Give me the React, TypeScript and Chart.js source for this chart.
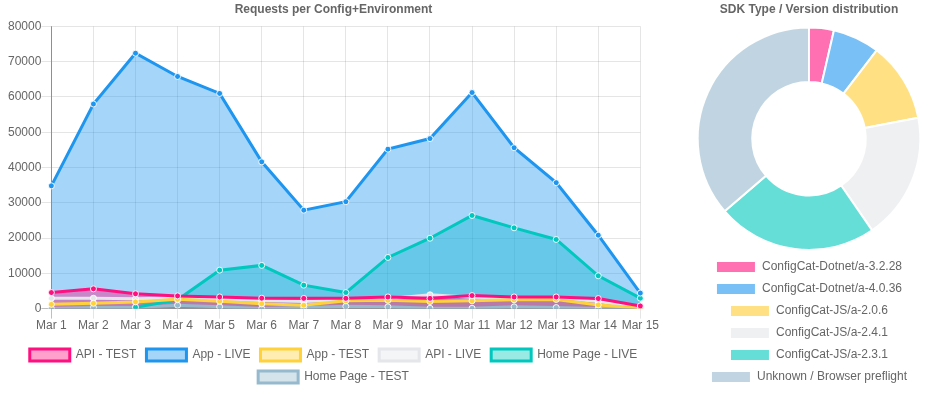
import React, { useEffect, useRef } from "react";
import { Chart, registerables } from "chart.js";

Chart.register(...registerables);

const dates = ["Mar 1", "Mar 2", "Mar 3", "Mar 4", "Mar 5", "Mar 6", "Mar 7", "Mar 8", "Mar 9", "Mar 10", "Mar 11", "Mar 12", "Mar 13", "Mar 14", "Mar 15"];

const apiTest = [4550, 5600, 4200, 3600, 3300, 2950, 2900, 2900, 3300, 2900, 3700, 3300, 3300, 2850, 750];
const appLive = [34800, 58000, 72400, 65800, 61000, 41600, 27900, 30300, 45200, 48200, 61250, 45600, 35700, 20800, 4400];
const appTest = [1200, 1500, 1900, 2650, 2100, 1350, 950, 2200, 2350, 2000, 2200, 2500, 2600, 1050, 200];
const apiLive = [2900, 2950, 2800, 3000, 2600, 2300, 2000, 2500, 2800, 3900, 3200, 3000, 3100, 2000, 300];
const homeLive = [null, null, 400, 2500, 10900, 12250, 6650, 4550, 14500, 19950, 26400, 22900, 19600, 9300, 2950];
const homeTest = [0, 300, 300, 950, 500, 0, 300, 650, 500, 100, 100, 500, 300, 0, 0];

const seriesNames = ["API - TEST", "App - LIVE", "App - TEST", "API - LIVE", "Home Page - LIVE", "Home Page - TEST"];
const seriesRgb = ["255,16,128", "30,150,240", "255,210,60", "228,230,234", "0,200,190", "150,185,205"];

const sdkLabels = ["ConfigCat-Dotnet/a-3.2.28", "ConfigCat-Dotnet/a-4.0.36", "ConfigCat-JS/a-2.0.6", "ConfigCat-JS/a-2.4.1", "ConfigCat-JS/a-2.3.1", "Unknown / Browser preflight"];
const sdkValues = [3.6, 6.8, 11.6, 18.4, 23.3, 36.3];
const sdkRgb = ["255,16,128", "30,150,240", "255,205,50", "228,230,234", "0,200,190", "150,185,205"];

const FONT = "'Liberation Sans', Arial, Helvetica, sans-serif";

export default function App() {
  const lineRef = useRef<HTMLCanvasElement>(null);
  const pieRef = useRef<HTMLCanvasElement>(null);

  useEffect(() => {
    Chart.defaults.font.family = FONT;
    Chart.defaults.font.size = 12;
    Chart.defaults.color = "#666";

    const allSeries = [apiTest, appLive, appTest, apiLive, homeLive, homeTest];
    const lineChart = new Chart(lineRef.current!, {
      type: "line",
      data: {
        labels: dates,
        datasets: allSeries.map((d, i) => ({
          label: seriesNames[i],
          data: d,
          borderColor: `rgb(${seriesRgb[i]})`,
          backgroundColor: `rgba(${seriesRgb[i]},0.4)`,
          fill: "origin",
          borderWidth: 3,
          tension: 0,
          pointRadius: 3,
          pointBorderWidth: 1,
          pointBackgroundColor: `rgb(${seriesRgb[i]})`,
          pointBorderColor: "rgba(255,255,255,0.9)",
        })),
      },
      options: {
        animation: false,
        responsive: true,
        maintainAspectRatio: false,
        plugins: {
          filler: { drawTime: "beforeDatasetsDraw" },
          title: {
            display: true,
            text: "Requests per Config+Environment",
            font: { weight: "bold", size: 12 },
            color: "#666",
            padding: { top: 2, bottom: 10 },
          },
          legend: {
            position: "bottom",
            labels: { boxWidth: 40, boxHeight: 12, padding: 10, color: "#666" },
          },
          tooltip: { enabled: false },
        },
        scales: {
          x: {
            grid: {
              color: (ctx: any) => (ctx.index === 0 ? "rgba(0,0,0,0.25)" : "rgba(0,0,0,0.1)"),
              tickLength: 10,
            },
            border: { color: "rgba(0,0,0,0.25)" },
            ticks: { padding: 0, maxRotation: 0, color: "#666" },
            afterFit: (scale: any) => {
              scale.height += 6;
            },
          },
          y: {
            min: 0,
            max: 80000,
            grid: {
              color: (ctx: any) => (ctx.index === 0 ? "rgba(0,0,0,0.25)" : "rgba(0,0,0,0.1)"),
              tickLength: 10,
            },
            border: { color: "rgba(0,0,0,0.25)" },
            ticks: { stepSize: 10000, padding: 0, color: "#666", callback: (v: any) => String(v) },
          },
        },
      },
    });

    const pieChart = new Chart(pieRef.current!, {
      type: "doughnut",
      data: {
        labels: sdkLabels,
        datasets: [
          {
            data: sdkValues,
            backgroundColor: sdkRgb.map((c) => `rgba(${c},0.6)`),
            borderColor: "#fff",
            borderWidth: 2,
          },
        ],
      },
      options: {
        animation: false,
        responsive: true,
        maintainAspectRatio: false,
        cutout: "51%",
        plugins: {
          title: {
            display: true,
            text: "SDK Type / Version distribution",
            font: { weight: "bold", size: 12 },
            color: "#666",
            padding: { top: 2, bottom: 10 },
          },
          legend: {
            position: "bottom",
            labels: { boxWidth: 40, boxHeight: 12, padding: 10, color: "#666" },
          },
          tooltip: { enabled: false },
        },
      },
    });

    return () => {
      lineChart.destroy();
      pieChart.destroy();
    };
  }, []);

  return (
    <div style={{ position: "absolute", left: 0, top: 0, width: 940, height: 394, background: "#fff" }}>
      <div style={{ position: "absolute", left: 8, top: 0, width: 651, height: 393 }}>
        <canvas ref={lineRef} />
      </div>
      <div style={{ position: "absolute", left: 678, top: 0, width: 262, height: 393 }}>
        <canvas ref={pieRef} />
      </div>
    </div>
  );
}
